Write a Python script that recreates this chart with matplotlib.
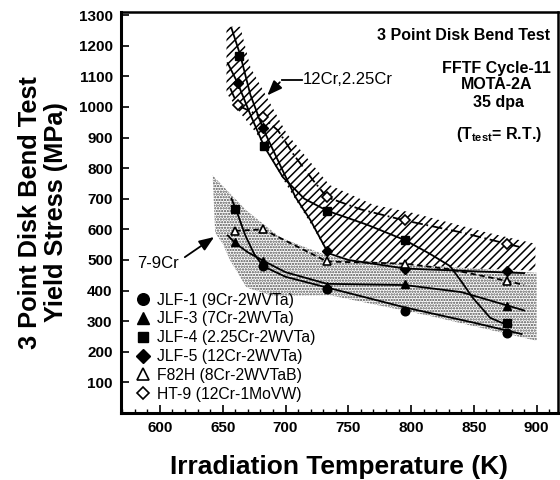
import matplotlib
matplotlib.use("Agg")
import matplotlib.pyplot as plt
from matplotlib.ticker import MultipleLocator

plt.rcParams["font.family"] = ["Liberation Sans", "DejaVu Sans"]
plt.rcParams["mathtext.fontset"] = "custom"
plt.rcParams["mathtext.bf"] = "Liberation Sans:bold"
plt.rcParams["mathtext.rm"] = "Liberation Sans"
plt.rcParams["hatch.linewidth"] = 1.1

# measured points (irradiation temperature K, yield stress MPa)
jlf1_t = [682, 733, 795, 876]
jlf1_s = [480, 405, 334, 262]
jlf3_t = [660, 682, 733, 795, 876]
jlf3_s = [557, 495, 415, 422, 350]
jlf4_t = [663, 660, 683, 733, 795, 876]
jlf4_s = [1165, 668, 871, 661, 565, 295]
jlf5_t = [662, 682, 733, 795, 876]
jlf5_s = [1077, 930, 530, 471, 465]
f82h_t = [660, 682, 733, 795, 876]
f82h_s = [595, 600, 497, 488, 432]
ht9_t = [662, 682, 733, 795, 876]
ht9_s = [1005, 966, 705, 629, 553]

# trend curves
jlf1_fit_t = [657, 661, 668, 675, 682, 700, 733, 795, 850, 888]
jlf1_fit_s = [700, 660, 580, 520, 480, 445, 410, 345, 295, 258]
jlf3_fit_t = [654, 660, 670, 682, 700, 733, 795, 840, 876, 890]
jlf3_fit_s = [580, 555, 525, 498, 460, 422, 418, 395, 352, 335]
jlf4_fit_t = [654, 662, 672, 683, 698, 715, 733, 765, 795, 815, 831, 840, 849, 863, 872, 878]
jlf4_fit_s = [1143, 1077, 975, 871, 770, 700, 661, 615, 565, 520, 480, 430, 377, 311, 295, 288]
jlf5_fit_t = [657, 664, 672, 682, 698, 708, 720, 734, 750, 795, 850, 890]
jlf5_fit_s = [1257, 1169, 1040, 930, 790, 705, 629, 522, 500, 472, 463, 457]
f82h_fit_t = [660, 682, 733, 795, 830, 876, 890]
f82h_fit_s = [595, 600, 495, 488, 470, 432, 418]
ht9_fit_t = [656, 662, 682, 694, 707, 722, 733, 760, 795, 840, 876, 886]
ht9_fit_s = [1061, 1005, 966, 923, 841, 760, 705, 665, 629, 590, 553, 543]

# scatter bands
band12_t = [653, 664, 672, 701, 735, 770, 800, 823, 860, 899,
            899, 850, 800, 760, 733, 722, 703, 690, 677, 665, 653]
band12_s = [1262, 1262, 1130, 913, 745, 680, 655, 630, 590, 553,
            465, 472, 485, 495, 525, 606, 730, 820, 913, 975, 1045]
band79_t = [642, 669, 696, 733, 760, 800, 850, 900,
            900, 814, 735, 690, 669, 656, 650, 644]
band79_s = [776, 661, 573, 514, 497, 485, 472, 458,
            236, 318, 385, 382, 410, 498, 553, 589]

legend_labels = ["JLF-1 (9Cr-2WVTa)", "JLF-3 (7Cr-2WVTa)", "JLF-4 (2.25Cr-2WVTa)",
                 "JLF-5 (12Cr-2WVTa)", "F82H (8Cr-2WVTaB)", "HT-9 (12Cr-1MoVW)"]

fig = plt.figure(figsize=(5.6, 4.8), dpi=100)
fig.patch.set_facecolor("white")
ax = fig.add_axes([121 / 560, 1 - 413 / 480, 437 / 560, 401 / 480])

ax.fill(band12_t, band12_s, facecolor="none", edgecolor="black", hatch="////", linewidth=0, zorder=1)
ax.fill(band79_t, band79_s, facecolor="none", edgecolor="0.3", hatch="......", linewidth=0, zorder=1)

lw = 1.3
ax.plot(jlf1_fit_t, jlf1_fit_s, color="black", lw=lw, zorder=2)
ax.plot(jlf3_fit_t, jlf3_fit_s, color="black", lw=lw, zorder=2)
ax.plot(jlf4_fit_t, jlf4_fit_s, color="black", lw=lw, zorder=2)
ax.plot(jlf5_fit_t, jlf5_fit_s, color="black", lw=lw, zorder=2)
ax.plot(f82h_fit_t, f82h_fit_s, color="black", lw=lw, ls=(0, (3, 2)), zorder=2)
ax.plot(ht9_fit_t, ht9_fit_s, color="black", lw=lw, ls=(0, (6, 2, 1, 2)), zorder=2)

ms = 6.2
h1, = ax.plot(jlf1_t, jlf1_s, "o", color="black", ms=ms, ls="none", zorder=3)
h3, = ax.plot(jlf3_t, jlf3_s, "^", color="black", ms=ms, ls="none", zorder=3)
h4, = ax.plot(jlf4_t, jlf4_s, "s", color="black", ms=ms - 0.5, ls="none", zorder=3)
h5, = ax.plot(jlf5_t, jlf5_s, "D", color="black", ms=ms - 1, ls="none", zorder=3)
hf, = ax.plot(f82h_t, f82h_s, "^", mfc="white", mec="black", mew=1.2, ms=ms, ls="none", zorder=3)
hh, = ax.plot(ht9_t, ht9_s, "D", mfc="white", mec="black", mew=1.2, ms=ms - 1.5, ls="none", zorder=3)

leg = ax.legend([h1, h3, h4, h5, hf, hh], legend_labels, loc="upper left",
                bbox_to_anchor=(0.035, 0.30), frameon=False, fontsize=11.3,
                handlelength=0.9, handletextpad=0.4, labelspacing=0.24,
                borderpad=0, borderaxespad=0, markerscale=1.35)

# annotations
ax.text(714, 1090, "12Cr,2.25Cr", fontsize=12, va="center", ha="left")
ax.plot([697, 713], [1087, 1087], color="black", lw=1.3)
ax.annotate("", xy=(684, 1031), xytext=(697, 1087),
            arrowprops=dict(arrowstyle="-|>,head_length=0.9,head_width=0.35", color="black", lw=1.3))
ax.text(582, 488, "7-9Cr", fontsize=12, va="center", ha="left")
ax.annotate("", xy=(645, 580), xytext=(618, 504),
            arrowprops=dict(arrowstyle="-|>,head_length=0.9,head_width=0.35", color="black", lw=1.3))

ax.text(911, 1232, "3 Point Disk Bend Test", fontsize=11.5, fontweight="bold", ha="right", va="center")
ax.text(868, 1127, "FFTF Cycle-11", fontsize=11.5, fontweight="bold", ha="center", va="center")
ax.text(868, 1072, "MOTA-2A", fontsize=11.5, fontweight="bold", ha="center", va="center")
ax.text(870, 1013, "35 dpa", fontsize=11.5, fontweight="bold", ha="center", va="center")
ax.text(870, 910, r"(T$_{\mathbf{test}}$= R.T.)", fontsize=11.5, fontweight="bold", ha="center", va="center")

ax.set_xlim(569, 917)
ax.set_ylim(0, 1310)
ax.set_xticks([600, 650, 700, 750, 800, 850, 900])
ax.xaxis.set_minor_locator(MultipleLocator(10))
ax.set_yticks(range(100, 1400, 100))
ax.tick_params(axis="both", which="major", direction="in", length=6, width=1.2,
               labelsize=11, pad=6)
ax.tick_params(axis="x", which="minor", direction="in", length=3, width=1)
for lab in ax.get_xticklabels() + ax.get_yticklabels():
    lab.set_fontweight("bold")
for side in ["left", "bottom"]:
    ax.spines[side].set_linewidth(2.2)
for side in ["top", "right"]:
    ax.spines[side].set_linewidth(1.8)

ax.set_xlabel("Irradiation Temperature (K)", fontsize=19, fontweight="bold", labelpad=14)
ax.set_ylabel("3 Point Disk Bend Test\nYield Stress (MPa)", fontsize=18.3,
              fontweight="bold", labelpad=8, linespacing=1.1)

fig.savefig("out.png", dpi=100)
